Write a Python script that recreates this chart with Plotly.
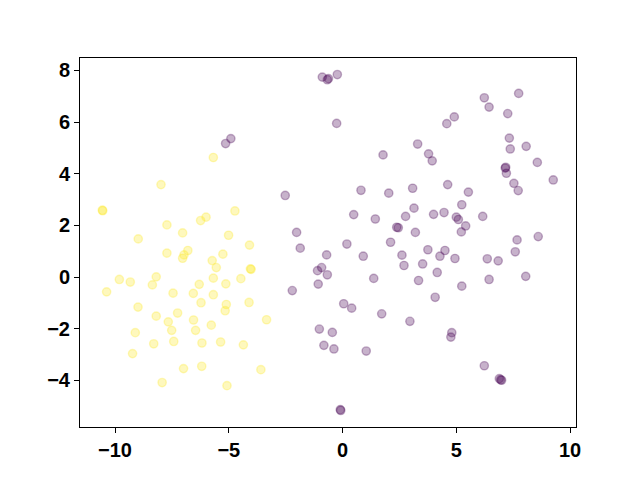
import plotly.graph_objects as go

purple_x = [-4.91, -5.14, -0.89, -0.67, -0.62, -0.23, -0.26, 1.78, 3.30,
            6.23, 7.74, 6.44, 7.26, 4.91, 4.58, 3.78, 3.94, 7.33, 7.37, 8.07, 8.56, 7.17, 7.20, 7.15, 4.62, 7.53, 7.72, 9.26,
            3.08, 5.53, 5.24, 3.14, 4.00, 4.46, 5.00, 5.09, 5.41, 5.22, 6.16, 3.20, 7.67, 8.60, 7.59, 3.75, 4.50, 4.28, 4.94, 6.36, 6.84, 3.52, 4.16, 8.05, 6.44, 3.34, 5.24, 4.07,
            -2.52, 0.81, 2.03, 0.49, 1.44, 2.77, 2.38, 2.45, -2.02, -1.86, 0.19, 2.11, -0.70, 0.91, 2.61, 2.70, -0.92, -1.10, -0.67, 1.37, -1.07, -2.21,
            0.05, 0.40, 1.72, 2.96, -1.02, -0.45, -0.82, -0.38, 1.04, -0.10, -0.08,
            4.80, 4.76, 6.23, 6.89, 6.99, 6.95]
purple_y = [5.36, 5.17, 7.74, 7.64, 7.68, 7.84, 5.95, 4.73, 5.15,
            6.94, 7.11, 6.58, 6.33, 6.20, 5.94, 4.77, 4.50, 5.38, 4.96, 5.06, 4.44, 4.25, 4.02, 4.22, 3.58, 3.63, 3.35, 3.76,
            3.44, 3.29, 2.80, 2.67, 2.43, 2.50, 2.32, 2.23, 1.98, 1.75, 2.35, 1.73, 1.44, 1.57, 0.98, 1.06, 1.03, 0.81, 0.72, 0.71, 0.63, 0.51, 0.18, 0.03, -0.09, -0.13, -0.35, -0.78,
            3.16, 3.36, 3.25, 2.42, 2.25, 2.35, 1.93, 1.91, 1.73, 1.12, 1.28, 1.35, 0.86, 0.81, 0.85, 0.45, 0.37, 0.25, 0.09, -0.05, -0.27, -0.52,
            -1.03, -1.20, -1.42, -1.71, -2.01, -2.14, -2.64, -2.78, -2.86, -5.13, -5.16,
            -2.15, -2.32, -3.43, -3.93, -3.99, -3.97]

yellow_x = [-5.68, -7.98, -10.56, -10.54, -4.73, -6.00, -6.24, -7.72, -7.03, -5.01, -8.98, -4.09, -7.72, -6.80, -6.97, -7.03,
            -5.26, -5.73, -5.55, -4.05, -4.02, -9.81, -9.33, -8.19, -8.36, -10.37, -7.45, -6.56, -5.68, -6.30, -5.13, -4.47, -5.68,
            -6.22, -5.11, -5.16, -4.11, -8.99, -8.19, -7.25, -7.66, -6.55, -5.77, -7.51, -6.46, -9.11, -8.30, -7.42, -6.18, -5.36,
            -4.36, -9.23, -6.99, -6.19, -7.93, -5.08, -3.34, -3.59]
yellow_y = [4.63, 3.58, 2.59, 2.57, 2.56, 2.32, 2.19, 2.02, 1.71, 1.62, 1.48, 1.24, 0.93, 1.03, 0.86, 0.73,
            0.89, 0.64, 0.37, 0.32, 0.30, -0.09, -0.19, 0.01, -0.30, -0.57, -0.62, -0.63, -0.04, -0.28, -0.26, -0.06, -0.68,
            -0.99, -1.06, -1.30, -0.98, -1.16, -1.51, -1.39, -1.73, -1.66, -1.86, -2.06, -2.06, -2.15, -2.58, -2.49, -2.55, -2.51,
            -2.62, -2.96, -3.54, -3.45, -4.08, -4.20, -1.65, -3.58]

x_ticks = [-10, -5, 0, 5, 10]
y_ticks = [-4, -2, 0, 2, 4, 6, 8]

PURPLE = "rgba(68,1,84,0.3)"
YELLOW = "rgba(253,231,37,0.3)"

fig = go.Figure()
for xs, ys, c in [(purple_x, purple_y, PURPLE), (yellow_x, yellow_y, YELLOW)]:
    fig.add_trace(go.Scatter(
        x=xs, y=ys, mode="markers",
        marker=dict(size=8.3, color=c, line=dict(color=c, width=1.4)),
        showlegend=False, hoverinfo="skip"))

axis_common = dict(
    showline=True, mirror=True, linecolor="black", linewidth=1,
    ticks="outside", ticklen=5, tickwidth=1, tickcolor="black",
    showgrid=False, zeroline=False,
    tickfont=dict(family="Liberation Sans", size=20, color="black", weight="bold"),
)
fig.update_layout(
    width=632, height=472,
    margin=dict(l=72, r=64, t=49.6, b=52.8, autoexpand=False),
    paper_bgcolor="white", plot_bgcolor="white",
    xaxis=dict(range=[-11.54, 10.26], tickvals=x_ticks,
               ticktext=["\u2212" + str(-v) if v < 0 else str(v) for v in x_ticks], **axis_common),
    yaxis=dict(range=[-5.80, 8.48], tickvals=y_ticks,
               ticktext=["\u2212" + str(-v) if v < 0 else str(v) for v in y_ticks], **axis_common),
)
fig.write_html("out.html")
